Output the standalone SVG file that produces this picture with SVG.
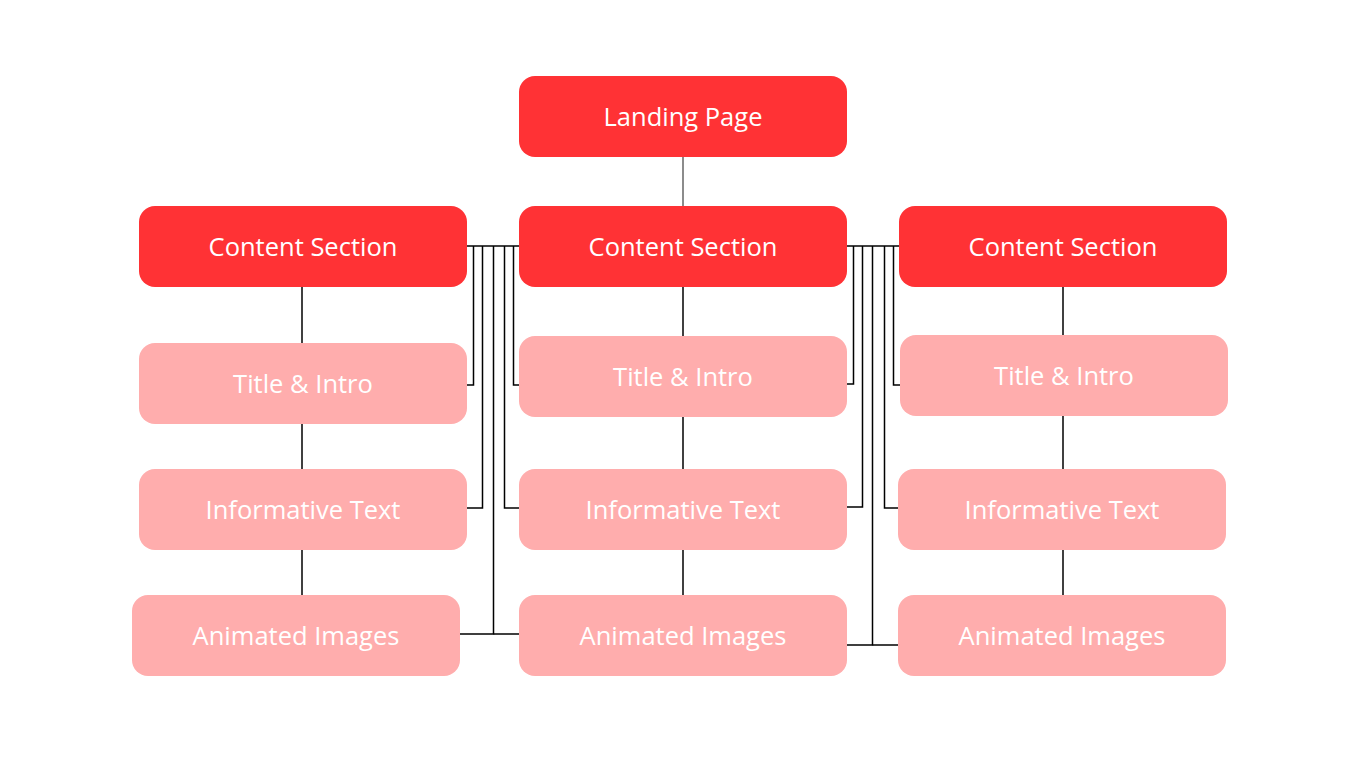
<svg xmlns="http://www.w3.org/2000/svg" width="1366" height="768" viewBox="0 0 1366 768">
  <style>
    .main rect { fill: #ff3235; }
    .sub rect { fill: #ffadad; }
    text { font-family: "Open Sans", "Liberation Sans", sans-serif; font-size: 25.5px; fill: #ffffff; text-anchor: middle; dominant-baseline: central; }
    .wire { fill: none; stroke: #000000; stroke-width: 1.5; }
    .stem { fill: none; stroke: #666666; stroke-width: 1.5; }
  </style>
  <rect width="1366" height="768" fill="#ffffff"/>

  <g id="connectors">
    <!-- root to middle section -->
    <line class="stem" x1="683" y1="157" x2="683" y2="206"/>
    <!-- column stems -->
    <line class="wire" x1="302" y1="287" x2="302" y2="343"/>
    <line class="wire" x1="302" y1="424" x2="302" y2="469"/>
    <line class="wire" x1="302" y1="550" x2="302" y2="595"/>
    <line class="wire" x1="683" y1="287" x2="683" y2="336"/>
    <line class="wire" x1="683" y1="417" x2="683" y2="469"/>
    <line class="wire" x1="683" y1="550" x2="683" y2="595"/>
    <line class="wire" x1="1063" y1="287" x2="1063" y2="335"/>
    <line class="wire" x1="1063" y1="416" x2="1063" y2="469"/>
    <line class="wire" x1="1063" y1="550" x2="1063" y2="595"/>
    <!-- left-middle bus -->
    <line class="wire" x1="467" y1="246" x2="519" y2="246"/>
    <polyline class="wire" points="473.5,246 473.5,385 467,385"/>
    <polyline class="wire" points="482.5,246 482.5,508 467,508"/>
    <polyline class="wire" points="493.5,246 493.5,634 460,634"/>
    <line class="wire" x1="493.5" y1="634" x2="519" y2="634"/>
    <polyline class="wire" points="504.5,246 504.5,508 519,508"/>
    <polyline class="wire" points="513.5,246 513.5,385 519,385"/>
    <!-- middle-right bus -->
    <line class="wire" x1="847" y1="246" x2="899" y2="246"/>
    <polyline class="wire" points="853.5,246 853.5,384 847,384"/>
    <polyline class="wire" points="862.5,246 862.5,507 847,507"/>
    <polyline class="wire" points="872.5,246 872.5,645 847,645"/>
    <line class="wire" x1="872.5" y1="645" x2="898" y2="645"/>
    <polyline class="wire" points="884.5,246 884.5,508 898,508"/>
    <polyline class="wire" points="893.5,246 893.5,385 900,385"/>
  </g>

  <g id="landing-page" class="main">
    <rect x="519" y="76" width="328" height="81" rx="16"/>
    <text x="683" y="116">Landing Page</text>
  </g>

  <g id="section-left" class="main">
    <rect x="139" y="206" width="328" height="81" rx="16"/>
    <text x="303" y="246">Content Section</text>
  </g>
  <g id="section-middle" class="main">
    <rect x="519" y="206" width="328" height="81" rx="16"/>
    <text x="683" y="246">Content Section</text>
  </g>
  <g id="section-right" class="main">
    <rect x="899" y="206" width="328" height="81" rx="16"/>
    <text x="1063" y="246">Content Section</text>
  </g>

  <g id="title-left" class="sub">
    <rect x="139" y="343" width="328" height="81" rx="16"/>
    <text x="303" y="383">Title &amp; Intro</text>
  </g>
  <g id="title-middle" class="sub">
    <rect x="519" y="336" width="328" height="81" rx="16"/>
    <text x="683" y="376">Title &amp; Intro</text>
  </g>
  <g id="title-right" class="sub">
    <rect x="900" y="335" width="328" height="81" rx="16"/>
    <text x="1064" y="375">Title &amp; Intro</text>
  </g>

  <g id="info-left" class="sub">
    <rect x="139" y="469" width="328" height="81" rx="16"/>
    <text x="303" y="509">Informative Text</text>
  </g>
  <g id="info-middle" class="sub">
    <rect x="519" y="469" width="328" height="81" rx="16"/>
    <text x="683" y="509">Informative Text</text>
  </g>
  <g id="info-right" class="sub">
    <rect x="898" y="469" width="328" height="81" rx="16"/>
    <text x="1062" y="509">Informative Text</text>
  </g>

  <g id="images-left" class="sub">
    <rect x="132" y="595" width="328" height="81" rx="16"/>
    <text x="296" y="635">Animated Images</text>
  </g>
  <g id="images-middle" class="sub">
    <rect x="519" y="595" width="328" height="81" rx="16"/>
    <text x="683" y="635">Animated Images</text>
  </g>
  <g id="images-right" class="sub">
    <rect x="898" y="595" width="328" height="81" rx="16"/>
    <text x="1062" y="635">Animated Images</text>
  </g>
</svg>
